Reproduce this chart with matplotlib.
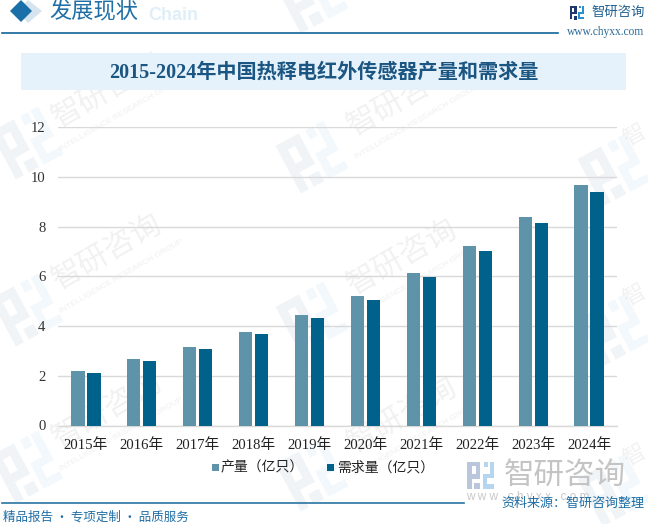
import matplotlib
matplotlib.use('Agg')
import matplotlib.pyplot as plt
from matplotlib.patches import Rectangle, Polygon
from matplotlib.transforms import Affine2D
import numpy as np

years = ['2015年','2016年','2017年','2018年','2019年','2020年','2021年','2022年','2023年','2024年']
output = [2.19,2.67,3.15,3.75,4.43,5.20,6.12,7.20,8.37,9.66]
demand = [2.11,2.59,3.07,3.67,4.31,5.04,5.96,7.00,8.13,9.38]
series_names = ['产量（亿只）','需求量（亿只）']
yticks = [0,2,4,6,8,10,12]
title = '2015-2024年中国热释电红外传感器产量和需求量'

SANS = ['Noto Sans CJK SC','DejaVu Sans']
SERIF = ['Liberation Serif','Noto Sans CJK SC']
W,H = 648,524
fig = plt.figure(figsize=(W/100,H/100),dpi=100,facecolor='white')

bg = fig.add_axes([0,0,1,1],zorder=0)
bg.set_xlim(0,W); bg.set_ylim(H,0); bg.axis('off')

def logo(ax,cx,cy,s,c1,c2,angle=0,alpha=1,z=1):
    x,y = cx-s/2,cy-s/2
    rot = Affine2D().rotate_deg_around(cx,cy,angle)+ax.transData
    blocks = [
        (0,0,.49,.17,c1),(0,.17,.17,.83,c1),(.32,.17,.17,.47,c1),(.17,.47,.15,.17,c1),
        (.27,.78,.22,.22,c1),
        (.62,0,.16,.2,c2),(.84,0,.16,.62,c2),(.58,.47,.26,.15,c2),(.58,.62,.15,.23,c2),(.58,.85,.42,.15,c2),
    ]
    for bx,by,bw,bh,c in blocks:
        ax.add_patch(Rectangle((x+bx*s,y+by*s),bw*s,bh*s,fc=c,ec='none',alpha=alpha,transform=rot,zorder=z,clip_on=True))

WM_LOGOS = [(312,-3),(27,143),(312,157),(614,170),(27,310),(312,318),(614,330),(27,467),(312,475),(614,490)]
WM_TEXTS = [(107,90),(402,98),(107,252),(402,257),(107,410),(402,415)]
WM_EDGE = [(634,135),(634,295),(634,455)]
for cx,cy in WM_LOGOS:
    logo(bg,cx,cy,54,'#9db4cc','#a5d0ea',angle=-28,alpha=0.14)
for cx,cy in WM_TEXTS:
    bg.text(cx,cy,'智研咨询',family=SANS,fontsize=22,color='#b0b0b0',alpha=0.17,rotation=30,
            rotation_mode='anchor',ha='center',va='center',zorder=1)
    bg.text(cx+14,cy+24,'INTELLIGENCE RESEARCH GROUP',family=['Liberation Sans'],fontsize=6,color='#b0b0b0',
            alpha=0.2,rotation=30,rotation_mode='anchor',ha='center',va='center',zorder=1)
for cx,cy in WM_EDGE:
    bg.text(cx,cy,'智',family=SANS,fontsize=16,color='#b0b0b0',alpha=0.17,rotation=30,
            rotation_mode='anchor',ha='center',va='center',zorder=1)

# header
bg.text(148,15,'Chain',family=['Liberation Sans'],fontsize=13,fontweight='bold',color='#e0eef8',va='center',ha='left',zorder=2)
bg.add_patch(Polygon([(28,0),(42,11),(28,23),(17,11)],fc='#d5e4ee',ec='none',zorder=2))
bg.add_patch(Polygon([(21,0),(32,11),(21,22),(10,11)],fc='#1a6fa8',ec='none',zorder=3))
bg.text(49,11.5,'发展现状',family=SANS,fontsize=16,color='#1f6ea5',va='center',ha='left',zorder=3)
bg.plot([2,558],[32.5,32.5],color='#0f6396',lw=1.2,zorder=3)
logo(bg,577,12.5,14,'#20386f','#2b8fd0',z=3)
bg.text(592,12,'智研咨询',family=SANS,fontsize=9.6,color='#1f5f8f',va='center',ha='left',zorder=3)
bg.text(567,32,'www.chyxx.com',family=['Liberation Serif'],fontsize=8.3,color='#2a6a96',va='center',ha='left',zorder=3)

# title band
bg.add_patch(Rectangle((21,53),605,37,fc='#e5f2fb',ec='none',zorder=2))
bg.text(323.5,73,title,family=SERIF,fontsize=14.5,fontweight='bold',color='#1b5582',va='center',ha='center',zorder=3)

# chart
ax = fig.add_axes([58/W,1-425.5/H,559/W,(425.5-127)/H],zorder=2)
ax.patch.set_alpha(0)
x = np.arange(len(years))
bw = 13.2/55.9
ax.bar(x-8/55.9,output,bw,color='#5f93aa',zorder=3)
ax.bar(x+8/55.9,demand,bw,color='#00618a',zorder=3)
ax.set_xlim(-.5,9.5); ax.set_ylim(0,12)
ax.set_yticks(yticks); ax.set_xticks(x,years)
ax.yaxis.grid(True,color='#d9d9d9',lw=1,zorder=0); ax.set_axisbelow(True)
for s in ['top','right','left']: ax.spines[s].set_visible(False)
ax.spines['bottom'].set_color('#d9d9d9'); ax.spines['bottom'].set_linewidth(1)
ax.tick_params(length=0)
ax.tick_params(axis='y',pad=9,labelcolor='#333333')
ax.tick_params(axis='x',pad=9,labelcolor='#222222')
for t in ax.get_yticklabels()+ax.get_xticklabels():
    t.set_family(SERIF); t.set_fontsize(10.6)

# legend
bg.add_patch(Rectangle((212,464),7,7,fc='#5f93aa',ec='none',zorder=3))
bg.text(221,467.5,series_names[0],family=SANS,fontsize=10,color='#222222',va='center',ha='left',zorder=3)
bg.add_patch(Rectangle((327,464),7,7,fc='#00618a',ec='none',zorder=3))
bg.text(337,467.5,series_names[1],family=SANS,fontsize=10,color='#222222',va='center',ha='left',zorder=3)

# footer
logo(bg,480.5,475,27,'#b9c6dc','#b5d6ee',z=2)
bg.text(504,475,'智研咨询',family=SANS,fontsize=22,color='#c4c4c4',va='center',ha='left',zorder=2)
bg.text(466,497,'w w w . c h y x x . c o m',family=['Liberation Sans'],fontsize=8.5,color='#c8c8c8',va='center',ha='left',zorder=2)
bg.plot([2,464],[503,503],color='#2a73a3',lw=1.2,zorder=3)
bg.text(3,517,'精品报告 · 专项定制 · 品质服务',family=SANS,fontsize=9,color='#1f6ea5',va='center',ha='left',zorder=3)
bg.text(501,503,'资料来源：智研咨询整理',family=SANS,fontsize=9.4,color='#1f6ea5',va='center',ha='left',zorder=3)

fig.savefig('out.png',dpi=100)
